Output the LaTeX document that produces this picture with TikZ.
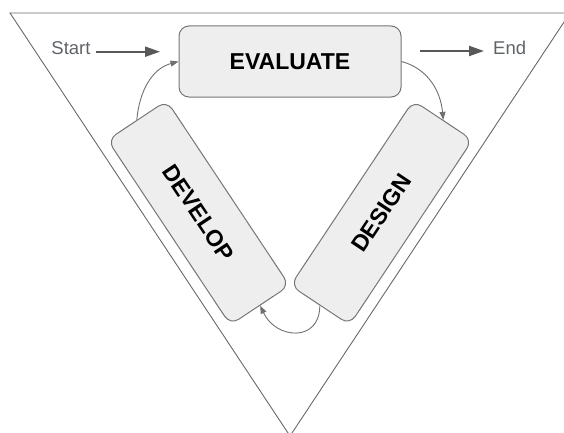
\documentclass[tikz,border=0pt]{standalone}
\usepackage{fontspec}
\setmainfont{Liberation Sans}
\usetikzlibrary{arrows.meta}
\definecolor{framegrey}{RGB}{105,105,105}
\definecolor{boxgrey}{RGB}{118,118,118}
\definecolor{boxfill}{RGB}{238,238,238}
\definecolor{arrowgrey}{RGB}{88,88,88}
\definecolor{loopgrey}{RGB}{112,112,112}
\definecolor{labelgrey}{RGB}{95,99,104}
\tikzset{
  phase/.style={draw=boxgrey,line width=1pt,fill=boxfill,rounded corners=10pt,
    minimum width=222pt,minimum height=71pt,inner sep=0pt,
    font=\bfseries\fontsize{23}{27}\selectfont},
  endlabel/.style={text=labelgrey,inner sep=0pt,
    font=\fontsize{18.5}{22}\selectfont},
  bigflow/.style={-{Triangle[length=15pt,width=10pt]},line width=2pt,
    draw=arrowgrey},
  loopflow/.style={-{Triangle[length=8pt,width=6pt]},line width=0.9pt,
    draw=loopgrey}
}

\begin{document}
\begin{tikzpicture}[x=1pt,y=1pt]
  \useasboundingbox (0,0) rectangle (564,432);
  \draw[draw=framegrey,line width=0.9pt] (10,419) -- (570,419) -- (290,-4) -- cycle;
  \node[phase] (evaluate) at (290,370.5) {EVALUATE};
  \node[phase,rotate=-56.4] (develop) at (198.5,219.25) {DEVELOP};
  \node[phase,rotate=56.4] (design) at (381.5,219.25) {DESIGN};
  \node[endlabel,anchor=base east] (start) at (90.7,377) {Start};
  \node[endlabel,anchor=base west] (end) at (493,377) {End};
  \coordinate (startin) at (160,380.3);
  \coordinate (endout) at (420,381);
  \draw[bigflow,shorten <=5pt] (start.east |- startin) -- (startin);
  \draw[bigflow,shorten >=9pt] (endout) -- (end.west |- endout);
  % the loop round the three phases
  \draw[loopflow] (develop.west) to[out=85,in=195] (evaluate.west);
  \draw[loopflow] (evaluate.east) to[out=-15,in=95] (design.east);
  \draw[loopflow] (design.west) to[out=-90,in=-65,looseness=1.6] (develop.east);
\end{tikzpicture}
\end{document}
